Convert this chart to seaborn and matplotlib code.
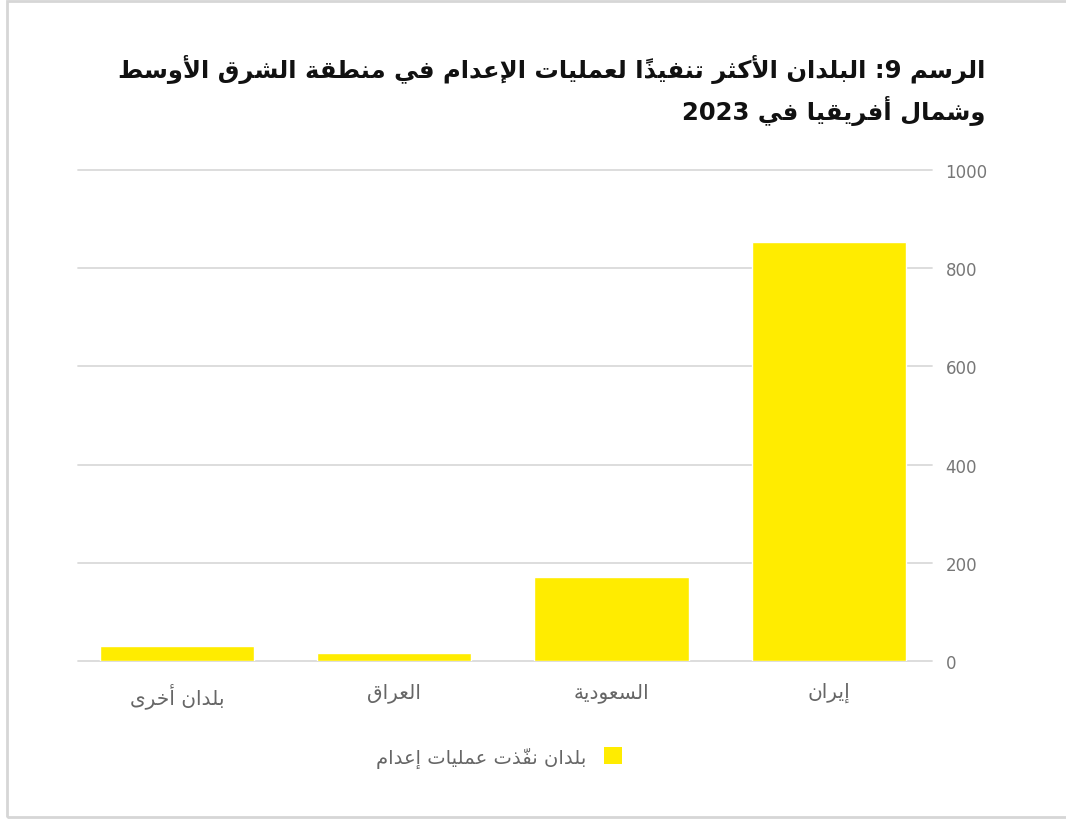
import matplotlib
matplotlib.use('Agg')
import matplotlib.pyplot as plt
from matplotlib.patches import Rectangle, Patch
import seaborn as sns
import pandas as pd

# data (logical / right-to-left order)
countries = ['إيران', 'السعودية', 'العراق', 'بلدان أخرى']
executions = [853, 172, 16, 31]
series_name = 'بلدان نفّذت عمليات إعدام'
title_lines = ['الرسم 9: البلدان الأكثر تنفيذًا لعمليات الإعدام في منطقة الشرق الأوسط',
               'وشمال أفريقيا في 2023']
y_ticks = [0, 200, 400, 600, 800, 1000]

# matplotlib has no arabic shaping, so map letters to presentation forms by hand
DUAL = {'ئ': 0xFE89, 'ب': 0xFE8F, 'ت': 0xFE95, 'ث': 0xFE99, 'ج': 0xFE9D, 'ح': 0xFEA1,
        'خ': 0xFEA5, 'س': 0xFEB1, 'ش': 0xFEB5, 'ص': 0xFEB9, 'ض': 0xFEBD, 'ط': 0xFEC1,
        'ظ': 0xFEC5, 'ع': 0xFEC9, 'غ': 0xFECD, 'ف': 0xFED1, 'ق': 0xFED5, 'ك': 0xFED9,
        'ل': 0xFEDD, 'م': 0xFEE1, 'ن': 0xFEE5, 'ه': 0xFEE9, 'ي': 0xFEF1}
RIGHT = {'آ': 0xFE81, 'أ': 0xFE83, 'ؤ': 0xFE85, 'إ': 0xFE87, 'ا': 0xFE8D, 'ة': 0xFE93,
         'د': 0xFEA9, 'ذ': 0xFEAB, 'ر': 0xFEAD, 'ز': 0xFEAF, 'و': 0xFEED, 'ى': 0xFEEF}
LAM_ALEF = {'آ': 0xFEF5, 'أ': 0xFEF7, 'إ': 0xFEF9, 'ا': 0xFEFB}


def shape_ar(text):
    units = []
    for ch in text:
        if '\u064B' <= ch <= '\u0652' and units:
            units[-1][1] += ch
        elif ch in LAM_ALEF and units and units[-1][0] == 'ل' and not units[-1][1]:
            units[-1] = ['LA' + ch, '', 'R']
        else:
            jt = 'D' if ch in DUAL else 'R' if ch in RIGHT else 'U'
            units.append([ch, '', jt])
    out = []
    for k, (b, marks, jt) in enumerate(units):
        prev_j = k > 0 and units[k - 1][2] == 'D' and jt != 'U'
        next_j = k < len(units) - 1 and jt == 'D' and units[k + 1][2] in ('D', 'R')
        if b.startswith('LA'):
            g = chr(LAM_ALEF[b[2]] + prev_j)
        elif jt == 'D':
            g = chr(DUAL[b] + (3 if prev_j and next_j else 1 if prev_j else 2 if next_j else 0))
        elif jt == 'R':
            g = chr(RIGHT[b] + prev_j)
        else:
            g = b
        # put the mark before its letter, it then lands on top of it
        out.append(marks + g)
    # visual order: reverse, but keep runs of digits left-to-right
    out = out[::-1]
    res, run = [], []
    for c in out:
        if c.isdigit():
            run.append(c)
        else:
            res += run[::-1]
            run = []
            res.append(c)
    res += run[::-1]
    return ''.join(res)


sns.set_style('white')
plt.rcParams['font.family'] = ['DejaVu Sans']

df = pd.DataFrame({'country': [shape_ar(c) for c in countries], 'n': executions})
order = [shape_ar(c) for c in countries][::-1]

fig = plt.figure(figsize=(10.66, 8.2), dpi=100)
ax = fig.add_axes([0.0732, 0.1927, 0.8008, 0.5988])

sns.barplot(data=df, x='country', y='n', order=order, color='#FFEC00',
            saturation=1, width=0.71, ax=ax)

ax.set_xlim(-0.456, 3.474)
ax.set_ylim(0, 1000)
ax.set_yticks(y_ticks)
ax.yaxis.tick_right()
ax.yaxis.grid(True, color='#dadada', lw=1.3)
for gl in ax.get_ygridlines():
    gl.set_clip_on(False)
ax.set_axisbelow(True)
ax.tick_params(axis='y', length=0, pad=10, labelsize=12, labelcolor='#777777')
ax.tick_params(axis='x', length=0, pad=15, labelsize=14.5, labelcolor='#666666')
ax.set_xlabel('')
ax.set_ylabel('')
sns.despine(ax=ax, left=True, bottom=True, right=True, top=True)

# title, right aligned
fig.text(0.924, 0.933, '\n'.join(shape_ar(t) for t in title_lines), ha='right', va='top',
         multialignment='right', fontsize=17.5, fontweight='bold', color='#111111',
         linespacing=1.5)

# legend, swatch on the right of the text
handle = Patch(facecolor='#FFEC00', edgecolor='none')
fig.legend([handle], [shape_ar(series_name)], loc='center', bbox_to_anchor=(0.468, 0.0756),
           frameon=False, markerfirst=False, handlelength=0.95, handleheight=0.95,
           handletextpad=0.9, fontsize=14, labelcolor='#666666')

# light frame round the picture
fig.patches.append(Rectangle((7 / 1066, 2 / 820), 1.1, 816 / 820, transform=fig.transFigure,
                             fill=False, edgecolor='#d6d6d6', lw=2))

plt.savefig('out.png', dpi=100)
